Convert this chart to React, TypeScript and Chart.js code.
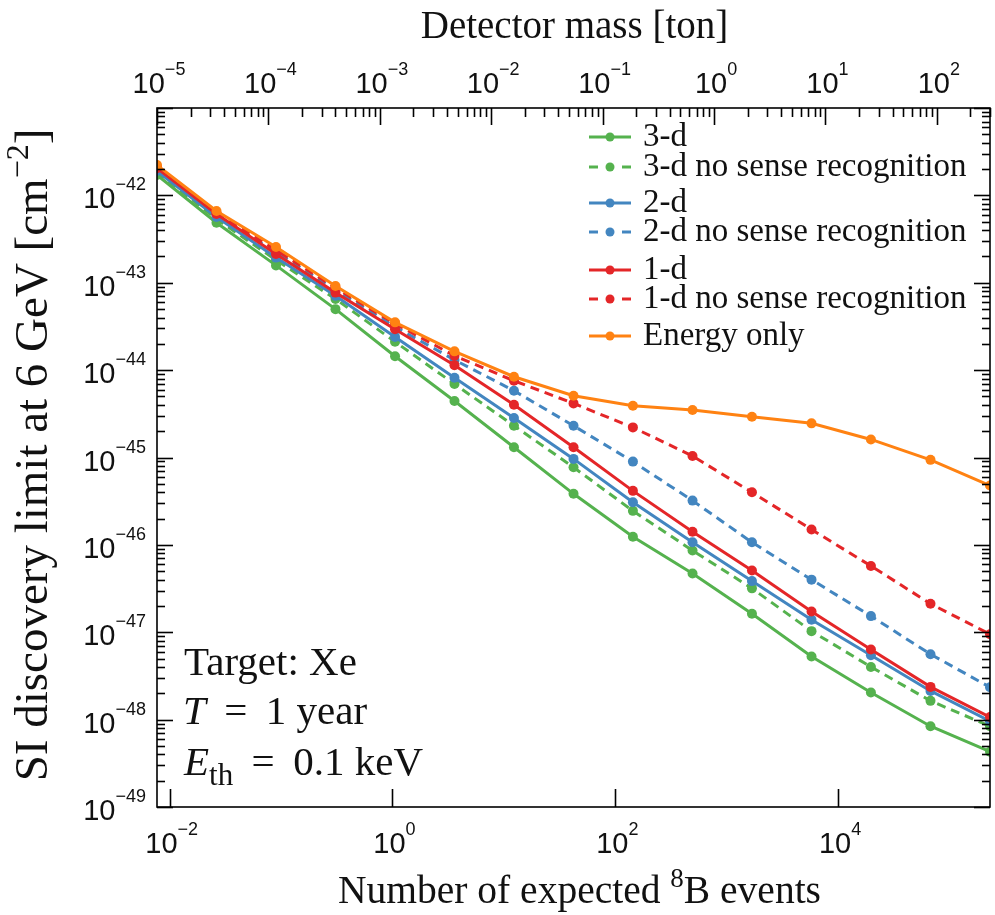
import React, { useEffect, useRef } from "react";
import { Chart, registerables } from "chart.js";

Chart.register(...registerables);

// ---------- data ----------
const EVENTS_PER_TON = 770; // expected 8B events per ton-year (top/bottom axis relation)
const detectorMass = [
  1.0e-5, 3.42e-5, 1.17e-4, 4.0e-4, 1.37e-3, 4.68e-3, 1.6e-2, 5.48e-2,
  1.87e-1, 6.41e-1, 2.19, 7.5, 25.6, 87.7, 300,
];
const limit3d = [
  1.71e-42, 4.86e-43, 1.58e-43, 4.99e-44, 1.44e-44, 4.43e-45, 1.31e-45, 3.84e-46,
  1.24e-46, 4.71e-47, 1.63e-47, 5.27e-48, 2.04e-48, 8.4e-49, 4.29e-49,
];
const limit3dNoSense = [
  1.85e-42, 5.36e-43, 1.82e-43, 6.53e-44, 2.11e-44, 6.93e-45, 2.31e-45, 7.73e-46,
  2.45e-46, 8.63e-47, 3.18e-47, 1.03e-47, 4.01e-48, 1.64e-48, 8.4e-49,
];
const limit2d = [
  1.9e-42, 5.65e-43, 1.94e-43, 7.08e-44, 2.4e-44, 8.18e-45, 2.83e-45, 9.64e-46,
  3.08e-46, 1.07e-46, 3.85e-47, 1.39e-47, 5.45e-48, 2.13e-48, 9.6e-49,
];
const limit2dNoSense = [
  2.0e-42, 5.96e-43, 2.25e-43, 8.28e-44, 3.13e-44, 1.31e-44, 5.81e-45, 2.31e-45,
  8.97e-46, 3.21e-46, 1.07e-46, 4.0e-47, 1.53e-47, 5.6e-48, 2.35e-48,
];
const limit1d = [
  2.05e-42, 6.11e-43, 2.13e-43, 7.71e-44, 2.94e-44, 1.14e-44, 4.02e-45, 1.31e-45,
  4.15e-46, 1.41e-46, 5.1e-47, 1.73e-47, 6.34e-48, 2.37e-48, 1.07e-48,
];
const limit1dNoSense = [
  2.1e-42, 6.28e-43, 2.37e-43, 8.73e-44, 3.39e-44, 1.46e-44, 7.56e-45, 4.16e-45,
  2.21e-45, 1.04e-45, 4.0e-46, 1.5e-46, 5.74e-47, 2.12e-47, 9.5e-48,
];
const limitEnergyOnly = [
  2.22e-42, 6.62e-43, 2.57e-43, 9.2e-44, 3.52e-44, 1.64e-44, 8.4e-45, 5.09e-45,
  3.92e-45, 3.5e-45, 2.93e-45, 2.46e-45, 1.61e-45, 9.4e-46, 4.78e-46,
];

const massTickExps = [-5, -4, -3, -2, -1, 0, 1, 2];
const eventTickExps = [-2, 0, 2, 4];
const limitTickExps = [-49, -48, -47, -46, -45, -44, -43, -42];

const seriesLabels = [
  "3-d",
  "3-d no sense recognition",
  "2-d",
  "2-d no sense recognition",
  "1-d",
  "1-d no sense recognition",
  "Energy only",
];

const GREEN = "#55b24e";
const BLUE = "#4386c0";
const RED = "#e42628";
const ORANGE = "#ff8212";

const SERIF = '"Liberation Serif", "DejaVu Serif", serif';
const SANS = '"Liberation Sans", Arial, sans-serif';

type Run = { text: string; font: string; dy: number };

function drawRuns(ctx: CanvasRenderingContext2D, runs: Run[], x: number, y: number, align: "left" | "center" | "right") {
  let total = 0;
  const widths = runs.map((r) => {
    ctx.font = r.font;
    const w = ctx.measureText(r.text).width;
    total += w;
    return w;
  });
  let cx = align === "left" ? x : align === "center" ? x - total / 2 : x - total;
  ctx.textAlign = "left";
  ctx.textBaseline = "alphabetic";
  runs.forEach((r, i) => {
    ctx.font = r.font;
    ctx.fillText(r.text, cx, y + r.dy);
    cx += widths[i];
  });
}

function powRuns(exp: number): Run[] {
  const s = exp < 0 ? "\u2212" + String(-exp) : String(exp);
  return [
    { text: "10", font: `29px ${SANS}`, dy: 0 },
    { text: s, font: `18px ${SANS}`, dy: -18 },
  ];
}

const overlay = {
  id: "overlay",
  afterDraw(chart: any) {
    const ctx: CanvasRenderingContext2D = chart.ctx;
    const { left, right, top, bottom } = chart.chartArea;
    const xm = chart.scales.xTop;
    const xe = chart.scales.x;
    const ys = chart.scales.y;
    ctx.save();
    ctx.strokeStyle = "#000";
    ctx.fillStyle = "#111";
    ctx.lineWidth = 1.6;
    ctx.setLineDash([]);

    const seg = (x1: number, y1: number, x2: number, y2: number) => {
      ctx.beginPath();
      ctx.moveTo(x1, y1);
      ctx.lineTo(x2, y2);
      ctx.stroke();
    };

    // top axis ticks (mass)
    for (const e of massTickExps.concat([3])) {
      for (let m = 1; m <= 9; m++) {
        const v = m * Math.pow(10, e);
        if (v < xm.min * 0.999 || v > xm.max * 1.001) continue;
        const px = Math.round(xm.getPixelForValue(v)) + 0.5;
        seg(px, top, px, top + (m === 1 ? 17 : 9));
      }
    }
    // bottom axis ticks (events)
    for (const e of eventTickExps) {
      const px = Math.round(xe.getPixelForValue(Math.pow(10, e))) + 0.5;
      seg(px, bottom, px, bottom - 18);
    }
    // y ticks both sides
    for (const e of limitTickExps.concat([-41])) {
      for (let m = 1; m <= 9; m++) {
        const v = m * Math.pow(10, e);
        if (v < ys.min * 0.999 || v > ys.max * 1.001) continue;
        const py = Math.round(ys.getPixelForValue(v)) + 0.5;
        const len = m === 1 ? 16 : 8;
        seg(left, py, left + len, py);
        seg(right, py, right - len, py);
      }
    }
    // frame
    ctx.strokeRect(left, top, right - left, bottom - top);

    // tick labels
    for (const e of massTickExps) {
      const px = xm.getPixelForValue(Math.pow(10, e));
      drawRuns(ctx, powRuns(e), px + 2, 93, "center");
    }
    for (const e of eventTickExps) {
      const px = xe.getPixelForValue(Math.pow(10, e));
      drawRuns(ctx, powRuns(e), px + 2, 853, "center");
    }
    for (const e of limitTickExps) {
      const py = ys.getPixelForValue(Math.pow(10, e));
      drawRuns(ctx, powRuns(e), 146, py + 13, "right");
    }

    // axis titles
    const cxPlot = (left + right) / 2;
    drawRuns(ctx, [{ text: "Detector mass [ton]", font: `39px ${SERIF}`, dy: 0 }], cxPlot + 1, 38, "center");
    drawRuns(
      ctx,
      [
        { text: "Number of expected ", font: `39.5px ${SERIF}`, dy: 0 },
        { text: "8", font: `27px ${SERIF}`, dy: -16 },
        { text: "B events", font: `39.5px ${SERIF}`, dy: 0 },
      ],
      cxPlot + 6,
      903,
      "center"
    );
    ctx.save();
    ctx.translate(47, 455);
    ctx.rotate(-Math.PI / 2);
    drawRuns(
      ctx,
      [
        { text: "SI discovery limit at 6 GeV [cm", font: `47px ${SERIF}`, dy: 0 },
        { text: "\u22122", font: `32px ${SERIF}`, dy: -19 },
        { text: "]", font: `47px ${SERIF}`, dy: 0 },
      ],
      0,
      0,
      "center"
    );
    ctx.restore();

    // annotation
    drawRuns(ctx, [{ text: "Target: Xe", font: `41px ${SERIF}`, dy: 0 }], 184, 675, "left");
    drawRuns(
      ctx,
      [
        { text: "T", font: `italic 41px ${SERIF}`, dy: 0 },
        { text: " \u2009=\u2009 1 year", font: `41px ${SERIF}`, dy: 0 },
      ],
      183,
      724,
      "left"
    );
    drawRuns(
      ctx,
      [
        { text: "E", font: `italic 41px ${SERIF}`, dy: 0 },
        { text: "th", font: `31px ${SERIF}`, dy: 10 },
        { text: " \u2009=\u2009 0.1 keV", font: `41px ${SERIF}`, dy: 0 },
      ],
      184,
      775,
      "left"
    );

    // legend
    const legendColors = [GREEN, GREEN, BLUE, BLUE, RED, RED, ORANGE];
    const legendDashed = [false, true, false, true, false, true, false];
    const rowOffsets = [29, 59, 95, 124, 162, 191, 228];
    const lx1 = left + 432;
    const lx2 = left + 474;
    const lmid = (lx1 + lx2) / 2;
    const tx = left + 486;
    seriesLabels.forEach((label, i) => {
      const y = top + rowOffsets[i];
      ctx.strokeStyle = legendColors[i];
      ctx.fillStyle = legendColors[i];
      ctx.lineWidth = 3;
      if (legendDashed[i]) {
        seg(lx1, y, lx1 + 9, y);
        seg(lx2 - 9, y, lx2, y);
      } else {
        seg(lx1, y, lx2, y);
      }
      ctx.beginPath();
      ctx.arc(lmid, y, 4.5, 0, Math.PI * 2);
      ctx.fill();
      ctx.fillStyle = "#111";
      drawRuns(ctx, [{ text: label, font: `33px ${SERIF}`, dy: 0 }], tx, y + 9, "left");
    });

    ctx.restore();
  },
};

function makeDataset(label: string, values: number[], color: string, dashed: boolean) {
  return {
    label,
    data: detectorMass.map((m, i) => ({ x: m, y: values[i] })),
    borderColor: color,
    backgroundColor: color,
    pointBackgroundColor: color,
    pointBorderWidth: 0,
    pointRadius: 5,
    borderWidth: 3,
    borderDash: dashed ? [9, 6] : [],
    tension: 0,
    xAxisID: "xTop",
    yAxisID: "y",
  };
}

export default function App() {
  const ref = useRef<HTMLCanvasElement | null>(null);
  useEffect(() => {
    document.body.style.margin = "0";
    const canvas = ref.current;
    if (!canvas) return;
    const datasets = [
      makeDataset(seriesLabels[6], limitEnergyOnly, ORANGE, false),
      makeDataset(seriesLabels[5], limit1dNoSense, RED, true),
      makeDataset(seriesLabels[4], limit1d, RED, false),
      makeDataset(seriesLabels[3], limit2dNoSense, BLUE, true),
      makeDataset(seriesLabels[2], limit2d, BLUE, false),
      makeDataset(seriesLabels[1], limit3dNoSense, GREEN, true),
      makeDataset(seriesLabels[0], limit3d, GREEN, false),
    ];
    const hidden = {
      ticks: { display: false },
      grid: { display: false },
      border: { display: false },
    };
    const chart = new Chart(canvas, {
      type: "line",
      data: { datasets } as any,
      options: {
        animation: false,
        responsive: false,
        devicePixelRatio: 1,
        layout: { padding: { left: 0, right: 1, top: 0, bottom: 0 } },
        plugins: { legend: { display: false }, tooltip: { enabled: false } },
        scales: {
          xTop: {
            type: "logarithmic",
            position: "top",
            min: detectorMass[0],
            max: detectorMass[detectorMass.length - 1],
            ...hidden,
            afterFit: (s: any) => {
              s.height = 108;
            },
          },
          x: {
            type: "logarithmic",
            position: "bottom",
            min: detectorMass[0] * EVENTS_PER_TON,
            max: detectorMass[detectorMass.length - 1] * EVENTS_PER_TON,
            ...hidden,
            afterFit: (s: any) => {
              s.height = 108;
            },
          },
          y: {
            type: "logarithmic",
            position: "left",
            min: 1e-49,
            max: 1e-41,
            ...hidden,
            afterFit: (s: any) => {
              s.width = 157;
            },
          },
        },
      } as any,
      plugins: [overlay],
    });
    return () => chart.destroy();
  }, []);
  return (
    <canvas ref={ref} width={995} height={915} style={{ display: "block", width: 995, height: 915 }} />
  );
}
